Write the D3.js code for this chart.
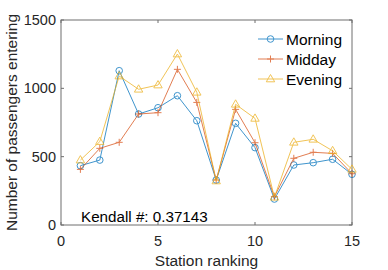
<!DOCTYPE html>
<html>
<head>
<meta charset="utf-8">
<script src="https://cdn.jsdelivr.net/npm/d3@7/dist/d3.min.js"></script>
<style>
  body { margin: 0; background: #fff; }
  svg { font-family: "Liberation Sans", Arial, sans-serif; }
</style>
</head>
<body>
<svg id="chart" width="388" height="270"></svg>
<script>
const stations = d3.range(1, 16);
const morning = [434, 475, 1129, 812, 858, 946, 763, 329, 744, 566, 190, 439, 456, 481, 371];
const midday = [407, 561, 605, 812, 822, 1139, 897, 329, 846, 602, 207, 488, 532, 524, 375];
const evening = [475, 610, 1090, 993, 1024, 1251, 971, 322, 883, 780, 203, 605, 627, 543, 407];
const seriesNames = ["Morning", "Midday", "Evening"];
const xTicks = [0, 5, 10, 15];
const yTicks = [0, 500, 1000, 1500];
const kendall = "Kendall #: 0.37143";

const series = [
  { name: seriesNames[0], values: morning, color: "#0072BD", marker: "circle" },
  { name: seriesNames[1], values: midday, color: "#D95319", marker: "plus" },
  { name: seriesNames[2], values: evening, color: "#EDB120", marker: "triangle" }
];

const svg = d3.select("#chart");
const margin = { top: 20, right: 36, bottom: 45, left: 61 };
const width = 388, height = 270;
const x = d3.scaleLinear().domain([0, 15]).range([margin.left, width - margin.right]);
const y = d3.scaleLinear().domain([0, 1500]).range([height - margin.bottom, margin.top]);
const axisColor = "#6e6e6e";

// box
svg.append("rect")
  .attr("x", x(0)).attr("y", y(1500))
  .attr("width", x(15) - x(0)).attr("height", y(0) - y(1500))
  .attr("fill", "none").attr("stroke", axisColor).attr("stroke-width", 1);

// ticks (inward, both sides)
xTicks.forEach((t) => {
  svg.append("line").attr("x1", x(t)).attr("x2", x(t)).attr("y1", y(0)).attr("y2", y(0) - 3).attr("stroke", axisColor);
  svg.append("line").attr("x1", x(t)).attr("x2", x(t)).attr("y1", y(1500)).attr("y2", y(1500) + 3).attr("stroke", axisColor);
  svg.append("text").attr("x", x(t)).attr("y", y(0) + 21).attr("text-anchor", "middle")
    .attr("font-size", 14.5).attr("fill", "#262626").text(t);
});
yTicks.forEach((t) => {
  svg.append("line").attr("x1", x(0)).attr("x2", x(0) + 3).attr("y1", y(t)).attr("y2", y(t)).attr("stroke", axisColor);
  svg.append("line").attr("x1", x(15)).attr("x2", x(15) - 3).attr("y1", y(t)).attr("y2", y(t)).attr("stroke", axisColor);
  svg.append("text").attr("x", x(0) - 5).attr("y", y(t) + 5).attr("text-anchor", "end")
    .attr("font-size", 14.5).attr("fill", "#262626").text(t);
});

// axis labels
svg.append("text").attr("x", (x(0) + x(15)) / 2).attr("y", 266).attr("text-anchor", "middle")
  .attr("font-size", 15.5).attr("fill", "#262626").text("Station ranking");
svg.append("text").attr("transform", `translate(17,${(y(0) + y(1500)) / 2}) rotate(-90)`)
  .attr("text-anchor", "middle").attr("font-size", 15.5).attr("fill", "#262626")
  .text("Number of passengers entering");

function drawMarker(g, type, cx, cy, color) {
  if (type === "circle") {
    g.append("circle").attr("cx", cx).attr("cy", cy).attr("r", 3.3)
      .attr("fill", "none").attr("stroke", color).attr("stroke-width", 1);
  } else if (type === "plus") {
    g.append("path").attr("d", `M${cx - 3.5},${cy}H${cx + 3.5}M${cx},${cy - 3.5}V${cy + 3.5}`)
      .attr("stroke", color).attr("stroke-width", 1);
  } else {
    g.append("path").attr("d", `M${cx},${cy - 4.5}L${cx + 4.2},${cy + 2.8}L${cx - 4.2},${cy + 2.8}Z`)
      .attr("fill", "none").attr("stroke", color).attr("stroke-width", 1);
  }
}

const line = d3.line().x((d, i) => x(stations[i])).y((d) => y(d));

series.forEach((s) => {
  const g = svg.append("g").attr("opacity", 0.75);
  g.append("path").datum(s.values).attr("d", line)
    .attr("fill", "none").attr("stroke", s.color).attr("stroke-width", 1);
  s.values.forEach((v, i) => drawMarker(g, s.marker, x(stations[i]), y(v), s.color));
});

// legend
series.forEach((s, i) => {
  const ly = 39 + i * 20;
  const g = svg.append("g").attr("opacity", 0.75);
  g.append("line").attr("x1", 258).attr("x2", 283).attr("y1", ly).attr("y2", ly)
    .attr("stroke", s.color).attr("stroke-width", 1);
  drawMarker(g, s.marker, 270.5, ly, s.color);
  svg.append("text").attr("x", 286).attr("y", ly + 5.5).attr("font-size", 15.5)
    .attr("fill", "#000").text(s.name);
});

svg.append("text").attr("x", 81).attr("y", 222).attr("font-size", 15.2)
  .attr("fill", "#000").text(kendall);
</script>
</body>
</html>
